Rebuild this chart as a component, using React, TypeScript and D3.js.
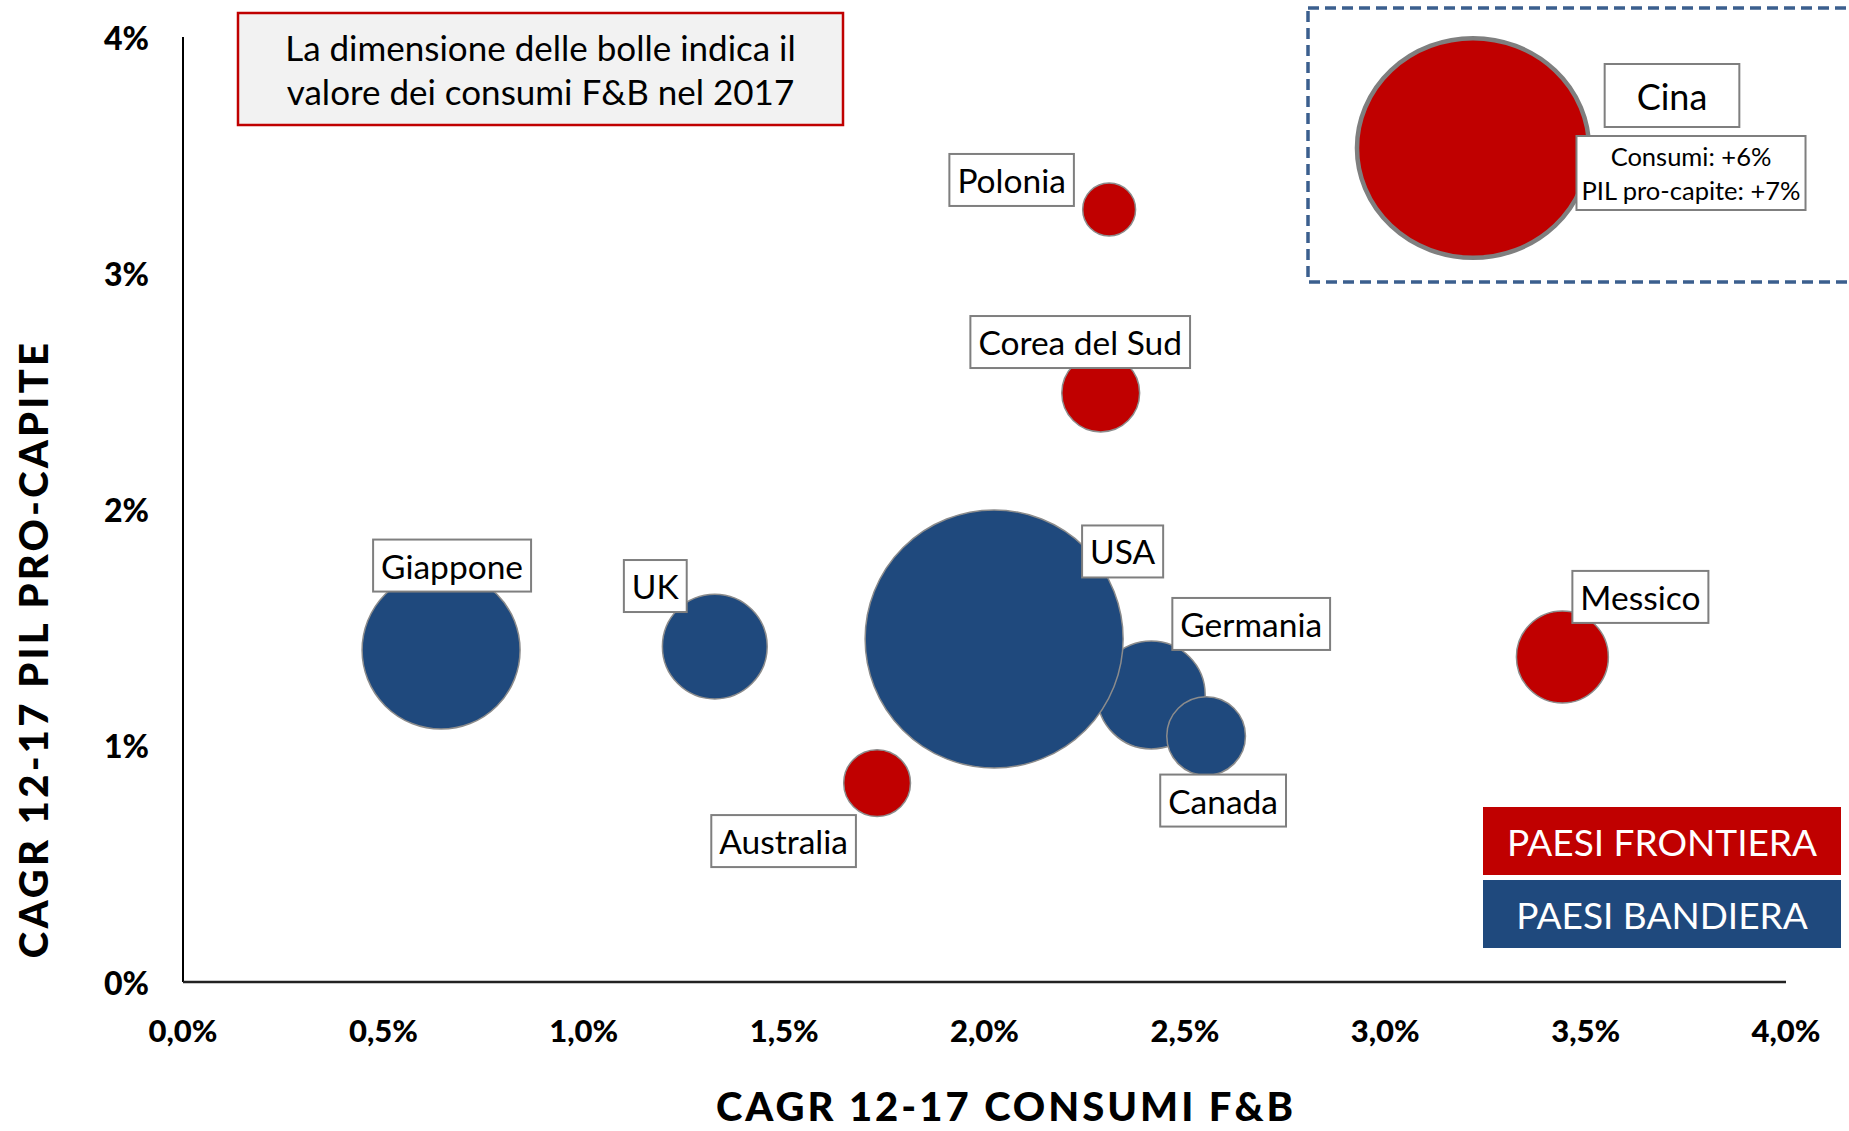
import React, { useEffect, useRef } from "react";
import * as d3 from "d3";

const W = 1849;
const H = 1131;

// ---- data ----
const countries = ["Giappone", "UK", "Germania", "USA", "Canada", "Corea del Sud", "Messico", "Polonia", "Australia"];
const consumiCagr = [0.644, 1.327, 2.416, 2.024, 2.553, 2.29, 3.442, 2.311, 1.732]; // % CAGR 12-17 consumi F&B
const pilCagr = [1.405, 1.42, 1.215, 1.452, 1.041, 2.493, 1.376, 3.27, 0.842]; // % CAGR 12-17 PIL pro-capite
const consumiSize = [375, 165, 175, 1000, 93, 91, 127, 42, 67]; // relative F&B consumption 2017
const groups = ["bandiera", "bandiera", "bandiera", "bandiera", "bandiera", "frontiera", "frontiera", "frontiera", "frontiera"];

const chinaName = "Cina";
const chinaSize = 770;
const chinaLines = ["Consumi: +6%", "PIL pro-capite: +7%"];

const xTicks = [0, 0.5, 1, 1.5, 2, 2.5, 3, 3.5, 4];
const yTicks = [0, 1, 2, 3, 4];
const legendLabels = ["PAESI FRONTIERA", "PAESI BANDIERA"];
const legendGroups = ["frontiera", "bandiera"];
const noteLines = ["La dimensione delle bolle indica il", "valore dei consumi F&B nel 2017"];
const xTitle = "CAGR 12-17 CONSUMI F&B";
const yTitle = "CAGR 12-17 PIL PRO-CAPITE";

// ---- layout (label box centre offsets from bubble centre, px) ----
const labelOffsets: [number, number][] = [
  [11, -84.5],
  [-59.5, -60.5],
  [100, -71],
  [128.5, -87.5],
  [17, 64.5],
  [-20.5, -51],
  [78, -60],
  [-97.5, -29.5],
  [-93.5, 58],
];

const FONT = "Lato, 'Open Sans', sans-serif";

export default function App() {
  const ref = useRef<SVGSVGElement>(null);

  useEffect(() => {
    document.body.style.margin = "0";
    const svg = d3.select(ref.current);
    svg.selectAll("*").remove();

    const x = d3.scaleLinear().domain([0, 4]).range([183, 1786]);
    const y = d3.scaleLinear().domain([0, 4]).range([982, 37]);
    const r = d3.scaleSqrt().domain([0, 1000]).range([0, 129]);
    const color = d3
      .scaleOrdinal<string, string>()
      .domain(["frontiera", "bandiera"])
      .range(["#C00000", "#1F497D"]);
    const loc = d3.formatLocale({ decimal: ",", thousands: ".", grouping: [3], currency: ["€", ""] });
    const fx = (v: number) => loc.format(".1f")(v) + "%";
    const fy = (v: number) => loc.format(".0f")(v) + "%";

    const drawBox = (
      g: d3.Selection<SVGGElement, unknown, null, undefined>,
      cx: number,
      cy: number,
      lines: string[],
      fontSize: number,
      lineH: number,
      padX: number,
      boxH: number
    ) => {
      const grp = g.append("g");
      const rect = grp.append("rect");
      const texts = lines.map((l, i) =>
        grp
          .append("text")
          .attr("x", cx)
          .attr("y", cy + (i - (lines.length - 1) / 2) * lineH)
          .attr("text-anchor", "middle")
          .attr("dominant-baseline", "central")
          .attr("font-family", FONT)
          .attr("font-size", fontSize)
          .attr("fill", "#000")
          .text(l)
      );
      const w = Math.max(...texts.map((t) => (t.node() as SVGTextElement).getComputedTextLength()));
      rect
        .attr("x", cx - w / 2 - padX)
        .attr("y", cy - boxH / 2)
        .attr("width", w + 2 * padX)
        .attr("height", boxH)
        .attr("fill", "#fff")
        .attr("stroke", "#7F7F7F")
        .attr("stroke-width", 2);
    };

    const root = svg.append("g");

    // axes lines
    root
      .append("line")
      .attr("x1", x(0))
      .attr("x2", x(0))
      .attr("y1", y(4))
      .attr("y2", y(0))
      .attr("stroke", "#000")
      .attr("stroke-width", 2);
    root
      .append("line")
      .attr("x1", x(0))
      .attr("x2", x(4))
      .attr("y1", y(0))
      .attr("y2", y(0))
      .attr("stroke", "#222")
      .attr("stroke-width", 2.5);

    // tick labels
    root
      .selectAll("text.xt")
      .data(xTicks)
      .join("text")
      .attr("class", "xt")
      .attr("x", (d) => x(d))
      .attr("y", 1030)
      .attr("text-anchor", "middle")
      .attr("dominant-baseline", "central")
      .attr("font-family", FONT)
      .attr("font-weight", 900)
      .attr("font-size", 31)
      .text((d) => fx(d));
    root
      .selectAll("text.yt")
      .data(yTicks)
      .join("text")
      .attr("class", "yt")
      .attr("x", 149)
      .attr("y", (d) => y(d))
      .attr("text-anchor", "end")
      .attr("dominant-baseline", "central")
      .attr("font-family", FONT)
      .attr("font-weight", 900)
      .attr("font-size", 32)
      .text((d) => fy(d));

    // axis titles
    root
      .append("text")
      .attr("x", 1006)
      .attr("y", 1121)
      .attr("text-anchor", "middle")
      .attr("font-family", FONT)
      .attr("font-weight", 900)
      .attr("font-size", 40)
      .attr("letter-spacing", 3)
      .text(xTitle);
    root
      .append("text")
      .attr("transform", "translate(33,649) rotate(-90)")
      .attr("text-anchor", "middle")
      .attr("dominant-baseline", "central")
      .attr("font-family", FONT)
      .attr("font-weight", 900)
      .attr("font-size", 40)
      .attr("letter-spacing", 3.2)
      .text(yTitle);

    // note box
    const note = root.append("g");
    note
      .append("rect")
      .attr("x", 238)
      .attr("y", 13)
      .attr("width", 605)
      .attr("height", 112)
      .attr("fill", "#F2F2F2")
      .attr("stroke", "#C00000")
      .attr("stroke-width", 2.5);
    noteLines.forEach((l, i) =>
      note
        .append("text")
        .attr("x", 540.5)
        .attr("y", 47 + i * 44)
        .attr("text-anchor", "middle")
        .attr("dominant-baseline", "central")
        .attr("font-family", FONT)
        .attr("font-size", 35)
        .text(l)
    );

    // bubbles
    const data = countries.map((c, i) => ({
      name: c,
      cx: x(consumiCagr[i]),
      cy: y(pilCagr[i]),
      rr: r(consumiSize[i]),
      group: groups[i],
      off: labelOffsets[i],
    }));
    root
      .append("g")
      .selectAll("circle")
      .data(data)
      .join("circle")
      .attr("cx", (d) => d.cx)
      .attr("cy", (d) => d.cy)
      .attr("r", (d) => d.rr)
      .attr("fill", (d) => color(d.group))
      .attr("stroke", "#8C8C8C")
      .attr("stroke-width", 1.5);

    const labels = root.append("g");
    data.forEach((d) => drawBox(labels, d.cx + d.off[0], d.cy + d.off[1], [d.name], 33.5, 0, 8, 52));

    // China inset
    const inset = root.append("g");
    inset
      .append("rect")
      .attr("x", 1308)
      .attr("y", 8)
      .attr("width", 600)
      .attr("height", 274)
      .attr("fill", "none")
      .attr("stroke", "#3B5F8E")
      .attr("stroke-width", 3.5)
      .attr("stroke-dasharray", "11,6");
    const cr = r(chinaSize);
    inset
      .append("ellipse")
      .attr("cx", 1473)
      .attr("cy", 148)
      .attr("rx", cr * 1.025)
      .attr("ry", cr * 0.97)
      .attr("fill", color("frontiera"))
      .attr("stroke", "#7F7F7F")
      .attr("stroke-width", 4.5);
    drawBox(inset, 1672, 95.5, [chinaName], 36, 0, 32, 63);
    drawBox(inset, 1691, 173, chinaLines, 25.5, 34, 5, 74);

    // legend
    const legend = root.append("g");
    legendLabels.forEach((l, i) => {
      legend
        .append("rect")
        .attr("x", 1483)
        .attr("y", 807 + i * 73)
        .attr("width", 358)
        .attr("height", 68)
        .attr("fill", color(legendGroups[i]));
      legend
        .append("text")
        .attr("x", 1662)
        .attr("y", 841 + i * 73)
        .attr("text-anchor", "middle")
        .attr("dominant-baseline", "central")
        .attr("font-family", FONT)
        .attr("font-size", 37)
        .attr("fill", "#fff")
        .text(l);
    });
  }, []);

  return <svg ref={ref} width={W} height={H} style={{ display: "block", background: "#fff" }} />;
}
